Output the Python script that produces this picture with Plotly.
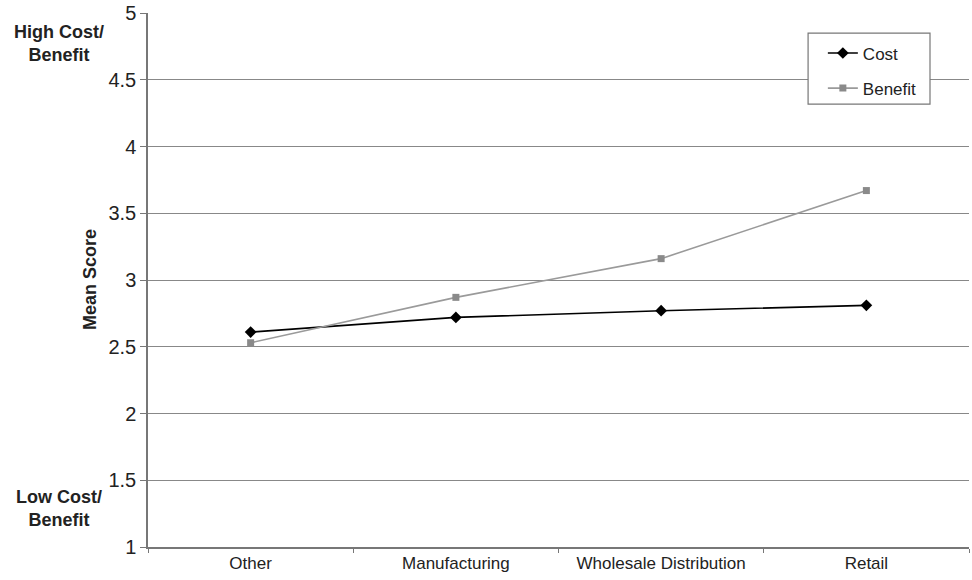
import plotly.graph_objects as go

# Mean scores by industry segment
categories = ["Other", "Manufacturing", "Wholesale Distribution", "Retail"]
cost = [2.61, 2.72, 2.77, 2.81]
benefit = [2.53, 2.87, 3.16, 3.67]
y_ticks = [1, 1.5, 2, 2.5, 3, 3.5, 4, 4.5, 5]

FONT = "Liberation Sans, Arial, sans-serif"
TEXT = "#222222"

fig = go.Figure()
fig.add_trace(go.Scatter(
    x=categories, y=cost, name="Cost", mode="lines+markers",
    line=dict(color="#000000", width=1.6),
    marker=dict(symbol="diamond", size=9, color="#000000"),
    legendgroup="cost",
))
fig.add_trace(go.Scatter(
    x=categories, y=benefit, name="Benefit", mode="lines+markers",
    line=dict(color="#9a9a9a", width=1.6),
    marker=dict(symbol="square", size=7, color="#8a8a8a"),
    legendgroup="benefit",
))

fig.update_layout(
    width=972, height=580,
    margin=dict(l=148, r=3, t=13, b=33),
    paper_bgcolor="white", plot_bgcolor="white",
    font=dict(family=FONT, size=17, color=TEXT),
    showlegend=True,
    legend=dict(
        x=0.822, y=0.958, xanchor="left", yanchor="top",
        borderwidth=0, bgcolor="rgba(0,0,0,0)",
        font=dict(family=FONT, size=17, color=TEXT),
        tracegroupgap=10,
    ),
    xaxis=dict(
        type="category", range=[-0.5, 3.5],
        showgrid=False, showline=True, linecolor="#777777", linewidth=1.5,
        ticks="outside", tickson="boundaries", ticklen=4, tickcolor="#777777",
        tickfont=dict(family=FONT, size=17, color=TEXT),
        zeroline=False,
    ),
    yaxis=dict(
        range=[1, 5], tickvals=y_ticks,
        showgrid=True, gridcolor="#888888", gridwidth=1.3,
        showline=True, linecolor="#777777", linewidth=1.5,
        ticks="outside", ticklen=6, tickcolor="#777777",
        tickfont=dict(family=FONT, size=20, color=TEXT),
        zeroline=False,
    ),
)

# Legend frame, drawn over the grid
fig.add_shape(
    type="rect", xref="paper", yref="y",
    x0=0.804, x1=0.9525, y0=4.318, y1=4.85,
    line=dict(color="#777777", width=1.2), fillcolor="white", layer="above",
)

# Axis caption and scale end labels
fig.add_annotation(
    text="<b>Mean Score</b>", textangle=-90, xref="paper", yref="paper",
    x=-0.0706, y=0.5, showarrow=False, xanchor="center", yanchor="middle",
    font=dict(family=FONT, size=18, color=TEXT),
)
fig.add_annotation(
    text="<b>High Cost/<br>Benefit</b>", xref="paper", yref="y",
    x=-0.108, y=4.77, showarrow=False, xanchor="center", yanchor="middle",
    align="center", font=dict(family=FONT, size=18, color=TEXT),
)
fig.add_annotation(
    text="<b>Low Cost/<br>Benefit</b>", xref="paper", yref="y",
    x=-0.108, y=1.285, showarrow=False, xanchor="center", yanchor="middle",
    align="center", font=dict(family=FONT, size=18, color=TEXT),
)

fig.write_html("out.html")
